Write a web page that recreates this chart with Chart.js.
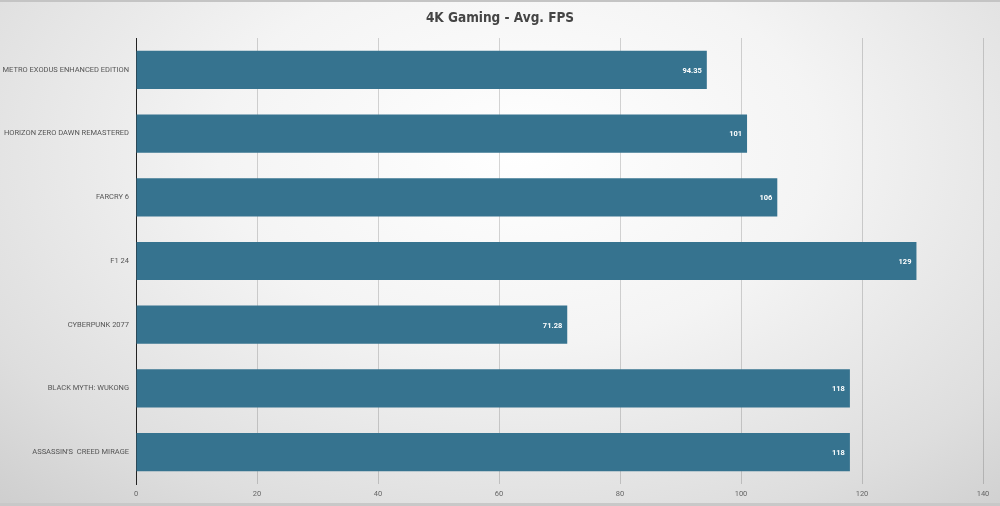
<!DOCTYPE html>
<html>
<head>
<meta charset="utf-8">
<script src="https://cdn.jsdelivr.net/npm/chart.js@4"></script>
<style>
  html, body { margin: 0; padding: 0; }
  body {
    width: 1000px; height: 506px; overflow: hidden; position: relative;
    background: radial-gradient(ellipse 75% 95% at 52% 30%, #ffffff 0%, #f4f4f4 40%, #dedede 80%, #cfcfcf 100%);
  }
  .edge-top { position: absolute; left: 0; top: 0; width: 1000px; height: 2px; background: #c4c4c4; }
  .edge-bottom { position: absolute; left: 0; bottom: 0; width: 1000px; height: 3px; background: #c8c8c8; }
  canvas { display: block; position: absolute; left: 0; top: 0; }
</style>
</head>
<body>
<div class="edge-top"></div>
<div class="edge-bottom"></div>
<canvas id="chart" width="1000" height="506"></canvas>
<script>
const chartTitle = '4K Gaming - Avg. FPS';
const games = [
  'METRO EXODUS ENHANCED EDITION',
  'HORIZON ZERO DAWN REMASTERED',
  'FARCRY 6',
  'F1 24',
  'CYBERPUNK 2077',
  'BLACK MYTH: WUKONG',
  "ASSASSIN'S  CREED MIRAGE"
];
const avgFps = [94.35, 101, 106, 129, 71.28, 118, 118];
const valueLabels = ['94.35', '101', '106', '129', '71.28', '118', '118'];

// title centred on the whole canvas + white value text at the end of each bar
const extras = {
  id: 'extras',
  afterDraw(chart) {
    const ctx = chart.ctx;
    ctx.save();
    ctx.fillStyle = '#454545';
    ctx.font = 'bold 13.5px "DejaVu Sans Condensed"';
    ctx.textAlign = 'center';
    ctx.textBaseline = 'middle';
    ctx.fillText(chartTitle, chart.width / 2, 18);

    const meta = chart.getDatasetMeta(0);
    ctx.fillStyle = '#ffffff';
    ctx.font = 'bold 7.5px Roboto';
    ctx.textAlign = 'right';
    meta.data.forEach((bar, i) => {
      ctx.fillText(valueLabels[i], bar.x - 5, bar.y + 1);
    });
    ctx.restore();
  }
};

const ctx = document.getElementById('chart').getContext('2d');
new Chart(ctx, {
  type: 'bar',
  data: {
    labels: games,
    datasets: [{
      data: avgFps,
      backgroundColor: '#36738f',
      borderWidth: 0,
      barPercentage: 0.6,
      categoryPercentage: 1
    }]
  },
  options: {
    indexAxis: 'y',
    responsive: false,
    animation: false,
    devicePixelRatio: 1,
    layout: { padding: { top: 38, right: 17, bottom: 0, left: 0 } },
    plugins: {
      legend: { display: false },
      tooltip: { enabled: false },
      title: { display: false }
    },
    scales: {
      x: {
        min: 0,
        max: 140,
        ticks: { stepSize: 20, color: '#666', font: { family: 'Roboto', size: 7.5 }, padding: 6 },
        grid: { color: 'rgba(0,0,0,0.16)', lineWidth: 1, drawTicks: false },
        border: { display: false },
        afterFit(scale) { scale.height = 22; }
      },
      y: {
        ticks: { color: '#555', font: { family: 'Roboto', size: 7.5 }, padding: 7 },
        grid: { display: false, drawTicks: false },
        border: { display: true, color: '#222', width: 1 },
        afterFit(scale) { scale.width = 136; }
      }
    }
  },
  plugins: [extras]
});
</script>
</body>
</html>
